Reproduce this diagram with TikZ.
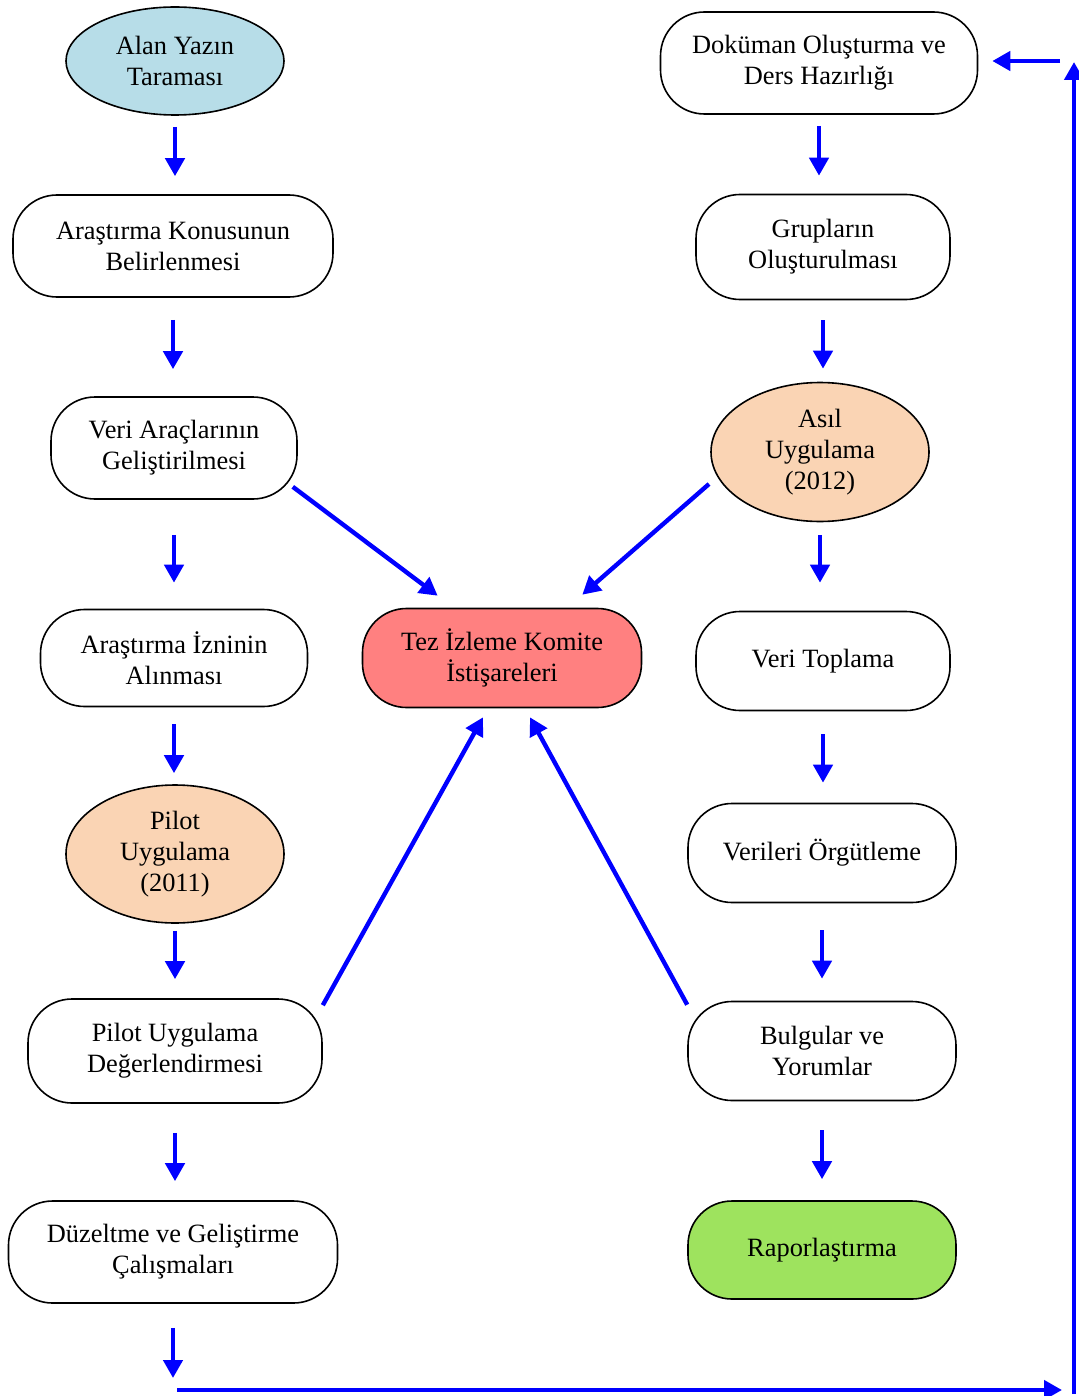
\documentclass[tikz,border=0pt]{standalone}
\usepackage{fontspec}
\setmainfont{Liberation Serif}
\usepackage{tikz}
\usetikzlibrary{arrows.meta, calc, shapes.geometric}
\definecolor{figblue}{RGB}{0,0,255}
\definecolor{figsky}{RGB}{183,221,232}
\definecolor{figpeach}{RGB}{250,212,180}
\definecolor{figred}{RGB}{255,128,128}
\definecolor{figgreen}{RGB}{158,227,94}
\tikzset{
  bx/.style={draw=black, fill=white, rounded corners=22pt,
             minimum width=#1, minimum height=51pt, align=center,
             inner sep=2pt, line width=0.8pt},
  ell/.style={draw=black, ellipse, minimum width=109pt, minimum height=#1,
              align=center, inner sep=0pt, line width=0.8pt},
  arr/.style={-{Triangle[length=9pt, width=9.5pt]}, line width=2.2pt, draw=figblue},
}

\begin{document}
\begin{tikzpicture}[x=0.5pt, y=-0.5pt, font=\fontsize{13.2}{15.5}\selectfont]
  \useasboundingbox (0,0) rectangle (1078,1396);

  % left column
  \node[ell=54pt, fill=figsky]   (alan)  at (175,61)   {Alan Yazın\\Taraması};
  \node[bx=160pt]                (konu)  at (173,246)  {Araştırma Konusunun\\Belirlenmesi};
  \node[bx=123pt]                (arac)  at (174,448)  {Veri Araçlarının\\Geliştirilmesi};
  \node[bx=133.5pt, minimum height=48.5pt] (izin) at (174,658) {Araştırma İzninin\\Alınması};
  \node[ell=69pt, fill=figpeach] (pilot) at (175,854)  {Pilot\\Uygulama\\(2011)};
  \node[bx=147pt, minimum height=52pt] (pdeg) at (175,1051) {Pilot Uygulama\\Değerlendirmesi};
  \node[bx=164.5pt]              (duz)   at (173,1252) {Düzeltme ve Geliştirme\\Çalışmaları};

  % right column
  \node[bx=158.5pt]              (dok)   at (819,63)   {Doküman Oluşturma ve\\Ders Hazırlığı};
  \node[bx=127pt, minimum height=52.5pt] (grup) at (823,247) {Grupların\\Oluşturulması};
  \node[ell=69.5pt, fill=figpeach] (asil) at (820,452) {Asıl\\Uygulama\\(2012)};
  \node[bx=127pt, minimum height=49.5pt] (topla) at (823,661) {Veri Toplama};
  \node[bx=134pt, minimum height=49.5pt] (orgut) at (822,853) {Verileri Örgütleme};
  \node[bx=134pt, minimum height=49.5pt] (bulgu) at (822,1051) {Bulgular ve\\Yorumlar};
  \node[bx=134pt, minimum height=49pt, fill=figgreen] (rapor) at (822,1250) {Raporlaştırma};

  % middle
  \node[bx=139.5pt, minimum height=49.5pt, fill=figred] (tez) at (502,658) {Tez İzleme Komite\\İstişareleri};

  % short arrows in the columns
  \foreach \a/\b/\s/\e in {alan/konu/5.5/9, konu/arac/11/13.5, arac/izin/17.5/13,
                           izin/pilot/8.5/5.5, pilot/pdeg/3.5/9.5, pdeg/duz/14.5/9.5,
                           dok/grup/5.5/9, grup/asil/10/6.5, asil/topla/6.5/14,
                           topla/orgut/11.5/10, orgut/bulgu/13.5/11, bulgu/rapor/14.5/10.5}
    \draw[arr, shorten <=\s pt, shorten >=\e pt] (\a.south) -- (\a.south |- \b.north);

  % arrows into the committee box
  \draw[arr] ($(arac.south east)+(-5,-13)$) -- ($(tez.north west)+(76,-12)$);
  \draw[arr] ($(asil.center)+(-111,32)$)   -- ($(tez.north east)+(-60,-13)$);
  \draw[arr] ($(pdeg.north east)+(0,7)$)   -- ($(tez.south)+(-19,9)$);
  \draw[arr] ($(bulgu.north west)+(0,4)$)  -- ($(tez.south)+(28,9)$);

  % loop back to the right column
  \coordinate (bl) at (177,1390);
  \coordinate (br) at (1062,1390);
  \coordinate (rb) at (1074,1394);
  \coordinate (rt) at (1074,62);
  \coordinate (tr) at (1060,61);
  \draw[arr, shorten <=12pt, shorten >=6pt] (duz.south) -- (duz.south |- bl);
  \draw[arr] (bl) -- (br);
  \draw[arr] (rb) -- (rt);
  \draw[arr, shorten >=7pt] (tr) -- (tr -| dok.east);
\end{tikzpicture}
\end{document}
